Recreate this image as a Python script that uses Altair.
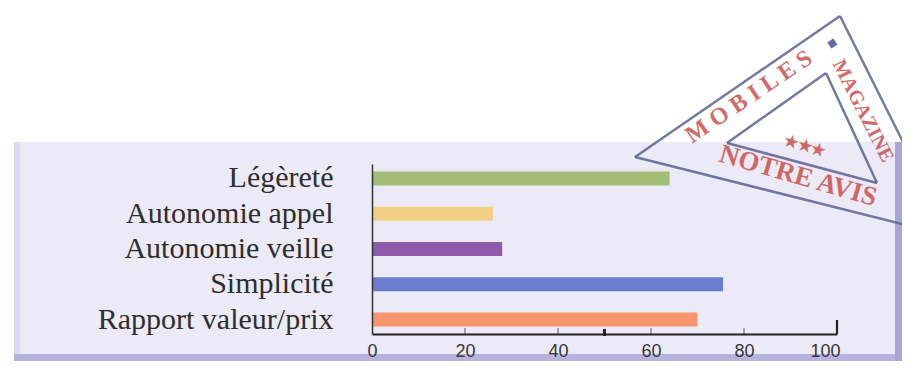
import altair as alt
import pandas as pd

# ---- data ----
categories = ["Légèreté", "Autonomie appel", "Autonomie veille", "Simplicité", "Rapport valeur/prix"]
scores = [64, 26, 28, 75.5, 70]
bar_colors = ["#a3bd76", "#f2d083", "#8c5aa9", "#6c7dd0", "#f7966e"]
x_ticks = [0, 20, 40, 60, 80, 100]
up_ticks = [20, 40, 60, 80]

df = pd.DataFrame({"critere": categories, "score": scores})
one = pd.DataFrame({"k": [0]})

W, H = 465, 170
SERIF = "Liberation Serif"
SANS = "Liberation Sans"

# panel background
panel = alt.Chart(one).mark_rect(color="#eceaf6").encode(
    x=alt.value(-358), x2=alt.value(523), y=alt.value(-22), y2=alt.value(200))
panel_left = alt.Chart(one).mark_rect(color="#dddbf1").encode(
    x=alt.value(-358), x2=alt.value(-352), y=alt.value(-22), y2=alt.value(200))
panel_bottom = alt.Chart(one).mark_rect(color="#b7b2de").encode(
    x=alt.value(-358), x2=alt.value(523), y=alt.value(190), y2=alt.value(200))
panel_right = alt.Chart(one).mark_rect(color="#aaa3d8").encode(
    x=alt.value(523), x2=alt.value(540), y=alt.value(-22), y2=alt.value(200))

bars = alt.Chart(df).mark_bar().encode(
    x=alt.X("score:Q", scale=alt.Scale(domain=[0, 100], nice=False),
            axis=alt.Axis(values=x_ticks, title=None, grid=False, ticks=False,
                          domainColor="#222", domainWidth=2.2, zindex=1,
                          labelFont=SANS, labelFontSize=18, labelColor="#363636",
                          labelPadding=8, labelFlush=False,
                          labelAlign=alt.expr("datum.value == 100 ? 'right' : 'center'"),
                          labelOffset=alt.expr("datum.value == 100 ? 3 : 0"))),
    y=alt.Y("critere:N", sort=categories,
            scale=alt.Scale(paddingInner=0.6, paddingOuter=0.21),
            axis=alt.Axis(title=None, ticks=False, domainColor="#333", domainWidth=1.5,
                          zindex=1, labelLimit=0,
                          labelFont=SERIF, labelFontSize=30, labelColor="#2e2e2e",
                          labelPadding=39)),
    color=alt.Color("critere:N", sort=categories,
                    scale=alt.Scale(domain=categories, range=bar_colors), legend=None),
)

ticks_small = alt.Chart(pd.DataFrame({"v": up_ticks})).mark_rule(color="#555", strokeWidth=1).encode(
    x=alt.X("v:Q", scale=alt.Scale(domain=[0, 100])), y=alt.value(164), y2=alt.value(170))
tick_end = alt.Chart(pd.DataFrame({"v": [100]})).mark_rule(color="#222", strokeWidth=2.2).encode(
    x=alt.X("v:Q", scale=alt.Scale(domain=[0, 100])), y=alt.value(156), y2=alt.value(170))
tick_mid = alt.Chart(pd.DataFrame({"v": [50]})).mark_rule(color="#222", strokeWidth=3).encode(
    x=alt.X("v:Q", scale=alt.Scale(domain=[0, 100])), y=alt.value(165), y2=alt.value(172))

# stamp "Mobiles Magazine - notre avis"
SC = "#5b6291"
def seg(x1, y1, x2, y2):
    return alt.Chart(one).mark_rule(color=SC, strokeWidth=2.5, opacity=0.85).encode(
        x=alt.value(x1), y=alt.value(y1), x2=alt.value(x2), y2=alt.value(y2))

stamp_lines = [
    seg(263, -7, 468, -148), seg(468, -148, 578, 72), seg(263, -7, 578, 72),
    seg(355, -21, 454, -91), seg(454, -91, 505, 19), seg(355, -21, 505, 19),
]

RED = "#c9524f"
def stamp_text(txt, x, y, angle, size, color=RED):
    return alt.Chart(one).mark_text(text=txt, font=SERIF, fontSize=size, color=color,
                                    angle=angle, align="center", baseline="middle",
                                    fontWeight="bold", opacity=0.85).encode(
        x=alt.value(x), y=alt.value(y))

stamp_texts = [
    stamp_text("M O B I L E S", 377, -67, 326, 24),
    stamp_text("■", 460, -121, 326, 15, "#4a4f9a"),
    stamp_text("MAGAZINE", 491, -53, 63, 20),
    stamp_text("NOTRE AVIS", 426, 12, 16, 27),
    stamp_text("★★★", 433, -18, 15, 16),
]

chart = alt.layer(
    panel, panel_left, panel_bottom, panel_right,
    bars, ticks_small, tick_mid, tick_end,
    *stamp_lines, *stamp_texts,
).properties(
    width=W, height=H,
    autosize=alt.AutoSizeParams(type="none"),
    padding={"left": 364, "top": 156, "right": 65, "bottom": 27},
).configure_view(stroke=None).configure(background="white")

chart.save("out.html", embed_options={"renderer": "svg", "actions": False})
